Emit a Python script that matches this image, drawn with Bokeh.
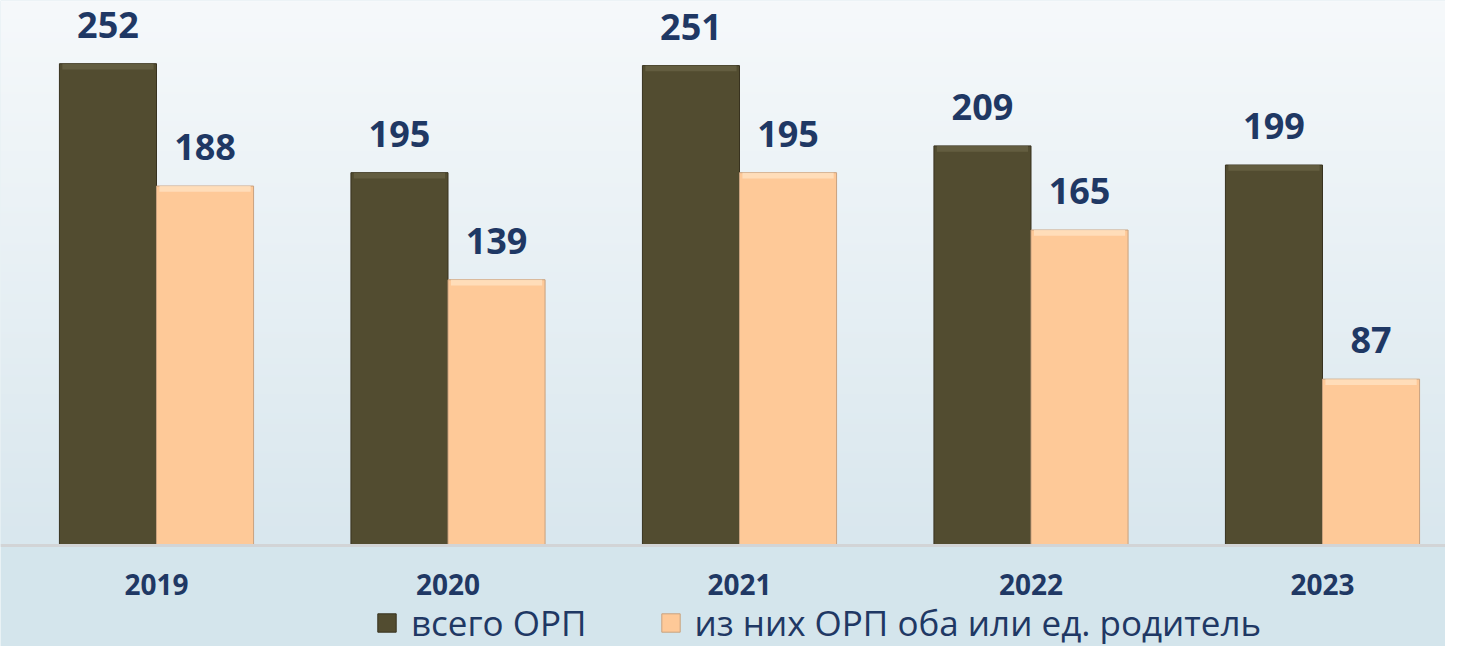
from bokeh.plotting import figure
from bokeh.models import Range1d, FixedTicker, Legend, LegendItem, ColumnDataSource
from bokeh.core.properties import value
from bokeh.embed import file_html
from bokeh.resources import INLINE
import numpy as np

# ---- data ----
years = ["2019", "2020", "2021", "2022", "2023"]
total_orp = [252, 195, 251, 209, 199]
both_or_single = [188, 139, 195, 165, 87]
series_names = ["всего ОРП", "из них ОРП оба или ед. родитель"]

# ---- styles ----
DARK = "#524c30"
DARK_EDGE = "#38321f"
DARK_HI = "#6b6547"
PEACH = "#fec998"
PEACH_EDGE = "#c9a27f"
PEACH_HI = "#ffe2c2"
NAVY = "#1f3864"
FONT = "Open Sans"

W, H = 1445, 646
PX_PER_UNIT = 1.912
BASE_PX = 545          # baseline from the top
CAT_STEP = 291.5       # px per category
FIRST_CAT = 156        # px of first category centre

x = np.arange(len(years), dtype=float)
x0 = (0 - FIRST_CAT) / CAT_STEP
x1 = (W - FIRST_CAT) / CAT_STEP
y1 = BASE_PX / PX_PER_UNIT
y0 = -(H - BASE_PX) / PX_PER_UNIT

p = figure(width=W, height=H, output_backend="svg", toolbar_location=None,
           x_range=Range1d(x0, x1), y_range=Range1d(y0, y1),
           y_axis_location=None,
           min_border_left=0, min_border_right=0, min_border_top=0, min_border_bottom=0)
p.background_fill_color = "#d4e5ec"
p.border_fill_color = "#d4e5ec"
p.outline_line_color = None
p.grid.visible = False

# vertical background gradient above the baseline (style only)
N = 256
t = np.linspace(0, 1, N)  # 0 = bottom, 1 = top
bot = np.array([217, 231, 238])
top = np.array([246, 249, 251])
cols = (bot[None, :] * (1 - t[:, None]) + top[None, :] * t[:, None]).astype(np.uint8)
img = np.empty((N, 1), dtype=np.uint32)
view = img.view(dtype=np.uint8).reshape((N, 1, 4))
view[:, 0, 0] = cols[:, 0]
view[:, 0, 1] = cols[:, 1]
view[:, 0, 2] = cols[:, 2]
view[:, 0, 3] = 255
p.image_rgba(image=[img], x=x0, y=0, dw=x1 - x0, dh=y1)

bw = 0.333
hi = 3.0
src = ColumnDataSource(dict(
    xl=x - bw / 2, xr=x + bw / 2,
    total=total_orp, part=both_or_single,
    total_hi=[v - hi for v in total_orp], part_hi=[v - hi for v in both_or_single],
    total_s=[str(v) for v in total_orp], part_s=[str(v) for v in both_or_single],
))

r1 = p.vbar(x="xl", top="total", bottom=0, width=bw, source=src,
            fill_color=DARK, line_color=DARK_EDGE, line_width=1)
r2 = p.vbar(x="xr", top="part", bottom=0, width=bw, source=src,
            fill_color=PEACH, line_color=PEACH_EDGE, line_width=1)
# bevel highlight on the bar tops
p.vbar(x="xl", top="total", bottom="total_hi", width=bw * 0.94, source=src,
       fill_color=DARK_HI, fill_alpha=0.7, line_color=None)
p.vbar(x="xr", top="part", bottom="part_hi", width=bw * 0.94, source=src,
       fill_color=PEACH_HI, fill_alpha=0.8, line_color=None)

for xs, ys, ts in (("xl", "total", "total_s"), ("xr", "part", "part_s")):
    p.text(x=xs, y=ys, text=ts, source=src, text_align="center",
           text_baseline="alphabetic", y_offset=-39,
           text_font=value(FONT), text_font_style="bold",
           text_font_size="36px", text_color=NAVY)

ax = p.xaxis[0]
ax.fixed_location = 0
ax.ticker = FixedTicker(ticks=list(x))
ax.major_label_overrides = {float(i): y for i, y in zip(x, years)}
ax.major_tick_line_color = None
ax.minor_tick_line_color = None
ax.major_tick_out = 0
ax.major_tick_in = 0
ax.axis_line_color = "#d2d4d6"
ax.axis_line_width = 3
ax.major_label_standoff = 28
ax.major_label_text_font = FONT
ax.major_label_text_font_style = "bold"
ax.major_label_text_font_size = "28px"
ax.major_label_text_color = NAVY

legend = Legend(items=[LegendItem(label=series_names[0], renderers=[r1]),
                       LegendItem(label=series_names[1], renderers=[r2])],
                location=(375, 0), orientation="horizontal",
                padding=0, margin=0, spacing=72, label_standoff=13,
                glyph_width=23, glyph_height=23,
                border_line_color=None, background_fill_alpha=0,
                label_text_font=FONT, label_text_font_size="35px",
                label_text_color=NAVY)
p.add_layout(legend)

open("out.html", "w").write(file_html(p, INLINE))
